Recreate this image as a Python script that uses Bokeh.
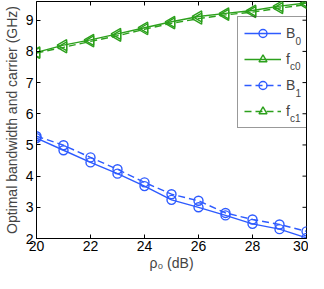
import numpy as np
from bokeh.plotting import figure
from bokeh.models import (ColumnDataSource, Legend, LegendItem, Label,
                          FixedTicker, Range1d)
from bokeh.embed import file_html
from bokeh.resources import INLINE

rho = [20, 21, 22, 23, 24, 25, 26, 27, 28, 29, 30]
B0 = [5.22, 4.83, 4.44, 4.08, 3.68, 3.24, 3.00, 2.74, 2.47, 2.30, 2.02]
B1 = [5.28, 4.99, 4.60, 4.22, 3.80, 3.42, 3.21, 2.82, 2.61, 2.45, 2.23]
fc0 = [7.97, 8.20, 8.37, 8.56, 8.76, 8.95, 9.12, 9.22, 9.31, 9.45, 9.55]
fc1 = [7.95, 8.13, 8.32, 8.50, 8.71, 8.90, 9.05, 9.17, 9.26, 9.39, 9.50]
x_ticks = [20, 22, 24, 26, 28, 30]
y_ticks = [2, 3, 4, 5, 6, 7, 8, 9]
legend_main = ["B", "f", "B", "f"]
legend_sub = ["0", "c0", "1", "c1"]
X_MIN, X_MAX, Y_MIN, Y_MAX = 20, 30, 2, 9.6

BLUE = "#2e5bff"
GREEN = "#2ca01c"
FONT = "Liberation Sans"

src = ColumnDataSource(dict(rho=rho, B0=B0, B1=B1, fc0=fc0, fc1=fc1,
                            ang=[np.pi / 2] * len(rho)))

p = figure(width=308, height=273, output_backend="svg", toolbar_location=None,
           x_range=Range1d(X_MIN, X_MAX), y_range=Range1d(Y_MIN, Y_MAX),
           min_border_left=30, min_border_right=2, min_border_top=1, min_border_bottom=0)
p.grid.visible = False
p.outline_line_color = "black"
p.outline_line_width = 1
p.background_fill_color = "white"
p.border_fill_color = "white"

for ax in (p.xaxis[0], p.yaxis[0]):
    ax.major_tick_in = 4
    ax.major_tick_out = 0
    ax.minor_tick_line_color = None
    ax.major_label_text_font = FONT
    ax.major_label_text_font_size = "14px"
    ax.major_label_text_color = "black"
    ax.major_label_text_line_height = 1.0
    ax.axis_label_text_font = FONT
    ax.axis_label_text_font_style = "normal"
    ax.axis_label_text_line_height = 1.0
    ax.axis_label_text_font_size = "14px"
    ax.axis_line_color = "black"
p.xaxis.ticker = FixedTicker(ticks=x_ticks)
p.yaxis.ticker = FixedTicker(ticks=y_ticks)
p.xaxis.axis_label = "ρ₀ (dB)"
p.yaxis.axis_label = "Optimal bandwidth and carrier (GHz)"
p.xaxis.major_label_standoff = 2
p.yaxis.major_label_standoff = 3
p.xaxis.axis_label_standoff = 1
p.yaxis.axis_label_standoff = 3

# inward ticks on top and right sides of the box
p.ray(x=x_ticks, y=[Y_MAX] * len(x_ticks), length=4, length_units="screen",
      angle=-np.pi / 2, line_color="black", line_width=1)
p.ray(x=[X_MAX] * len(y_ticks), y=y_ticks, length=4, length_units="screen",
      angle=np.pi, line_color="black", line_width=1)

r_b0 = p.line("rho", "B0", source=src, color=BLUE, line_width=1.4)
s_b0 = p.scatter("rho", "B0", source=src, marker="circle", size=9,
                 line_color=BLUE, fill_color=None, line_width=1.4)
r_f0 = p.line("rho", "fc0", source=src, color=GREEN, line_width=1.4)
s_f0 = p.scatter("rho", "fc0", source=src, marker="triangle", angle="ang", size=11,
                 line_color=GREEN, fill_color=None, line_width=1.4)
r_b1 = p.line("rho", "B1", source=src, color=BLUE, line_width=1.4, line_dash="7 4")
s_b1 = p.scatter("rho", "B1", source=src, marker="circle", size=9,
                 line_color=BLUE, fill_color=None, line_width=1.4)
r_f1 = p.line("rho", "fc1", source=src, color=GREEN, line_width=1.4, line_dash="7 4")
s_f1 = p.scatter("rho", "fc1", source=src, marker="triangle", angle="ang",
                 size=11, line_color=GREEN, fill_color=None, line_width=1.4)

LX, LY = 201, 110
PAD, GW, STAND, ITEM_H, SPACING = 6, 37, 5, 20, 6
legend = Legend(items=[
    LegendItem(label=legend_main[0], renderers=[r_b0, s_b0]),
    LegendItem(label=legend_main[1], renderers=[r_f0, s_f0]),
    LegendItem(label=legend_main[2], renderers=[r_b1, s_b1]),
    LegendItem(label=legend_main[3], renderers=[r_f1, s_f1]),
], location=(LX, LY), padding=PAD, spacing=SPACING, glyph_width=GW, glyph_height=ITEM_H,
    label_height=ITEM_H, label_width=15, label_standoff=STAND, margin=0,
    label_text_font=FONT, label_text_font_size="14px",
    border_line_color="#333333", border_line_width=1, background_fill_alpha=0.0)
p.add_layout(legend, "center")

H = 2 * PAD + 4 * ITEM_H + 3 * SPACING
sub_dx = [10, 4.5, 10, 4.5]
for i, s in enumerate(legend_sub):
    cy = LY + H - PAD - ITEM_H / 2 - i * (ITEM_H + SPACING)
    p.add_layout(Label(x=LX + PAD + GW + STAND + sub_dx[i], y=cy - 6,
                       x_units="screen", y_units="screen", text=s,
                       text_font=FONT, text_font_size="10px", text_baseline="middle"))

open("out.html", "w").write(file_html(p, INLINE))
